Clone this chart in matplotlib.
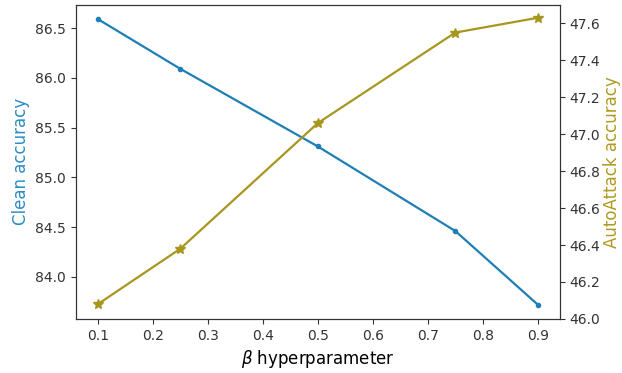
import matplotlib
matplotlib.use("Agg")
import matplotlib.pyplot as plt

# beta values and the two accuracies
beta = [0.1, 0.25, 0.5, 0.75, 0.9]
clean_acc = [86.59, 86.09, 85.31, 84.46, 83.72]
autoattack_acc = [46.08, 46.38, 47.06, 47.55, 47.63]

blue = '#1f7fb5'
gold = '#a8961f'

fig = plt.figure(figsize=(6.22, 3.73), dpi=100)
ax1 = fig.add_axes([0.122, 0.145, 0.778, 0.842])

ax1.plot(beta, clean_acc, color=blue, marker='.', linewidth=1.6, markersize=6)
ax1.set_xlabel(r'$\beta$ hyperparameter', fontsize=12)
ax1.set_ylabel('Clean accuracy', fontsize=12, color='#2b8cc4')
ax1.set_xticks([0.1, 0.2, 0.3, 0.4, 0.5, 0.6, 0.7, 0.8, 0.9])
ax1.tick_params(labelsize=10, colors='#333333')

ax2 = ax1.twinx()
ax2.plot(beta, autoattack_acc, color=gold, marker='*', linewidth=1.6, markersize=7)
ax2.set_ylim(46.0, 47.7)
ax2.set_ylabel('AutoAttack accuracy', fontsize=12, color='#b09a20', labelpad=2)
ax2.tick_params(labelsize=10, colors='#333333')

for ax in (ax1, ax2):
    for sp in ax.spines.values():
        sp.set_color('#333333')

fig.savefig('out.png', dpi=100)
